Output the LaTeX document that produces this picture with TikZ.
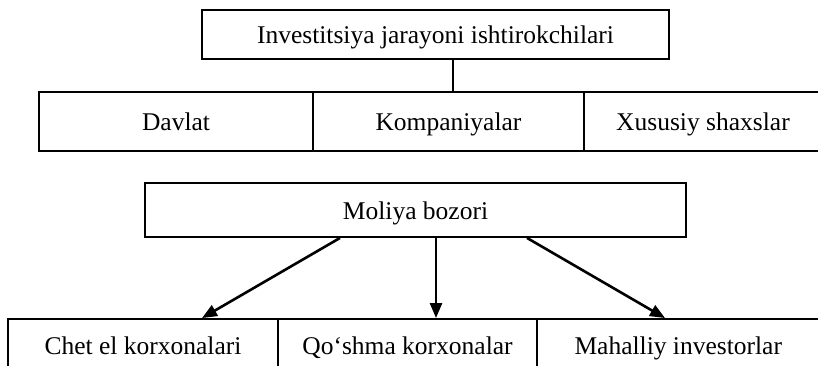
\documentclass[tikz,border=0pt]{standalone}
\usepackage{fontspec}
\setmainfont{Liberation Serif}
\usetikzlibrary{arrows.meta,calc}

\begin{document}
\begin{tikzpicture} [
    x=1pt, y=-1pt,
    font=\fontsize{25.5}{30}\selectfont,
    block/.style    = { rectangle, draw, line width=1.9pt, inner sep=0pt,
                        text centered, text height=19pt, text depth=0pt },
    line/.style     = { draw, line width=1.9pt },
    arrow/.style    = { draw, line width=2.6pt,
                        -{Triangle[length=15pt,width=12pt]} },
  ]
  \useasboundingbox (0,0) rectangle (818,366);
  \clip (0,0) rectangle (818,366);

  % Define nodes
  \node[block, minimum width=467pt, minimum height=49pt] (uchastnik) at (435.5,34.5)
       {Investitsiya jarayoni ishtirokchilari};

  \node[block, minimum width=274pt, minimum height=59pt] (davlat) at (176,121.5) {Davlat};
  \node[block, minimum width=271pt, minimum height=59pt] (kompan) at (448.5,121.5) {Kompaniyalar};
  \node[block, minimum width=238pt, minimum height=59pt] (xususiy) at (703,121.5) {Xususiy shaxslar};

  \node[block, minimum width=541pt, minimum height=54pt] (moliya) at (415.5,210) {Moliya bozori};

  \node[block, minimum width=270pt, minimum height=51pt] (chet) at (143,344.5) {Chet el korxonalari};
  \node[block, minimum width=259pt, minimum height=51pt] (qoshma) at (407.5,344.5) {Qo‘shma korxonalar};
  \node[block, minimum width=282.5pt, minimum height=51pt] (mahalliy) at (678.25,344.5) {Mahalliy investorlar};

  % connect the nodes
  \path [line] ($(uchastnik.south)+(17.5,0)$) -- ($(kompan.north)+(4.5,0)$);
  \path [arrow] ($(moliya.south)+(-75.5,0)$) -- ($(chet.north)+(59,0)$);
  \path [arrow] ($(moliya.south)+(20.5,0)$) -- ($(qoshma.north)+(28.5,0)$);
  \path [arrow] ($(moliya.south)+(111.5,0)$) -- ($(mahalliy.north)+(-13.25,0)$);
\end{tikzpicture}
\end{document}
